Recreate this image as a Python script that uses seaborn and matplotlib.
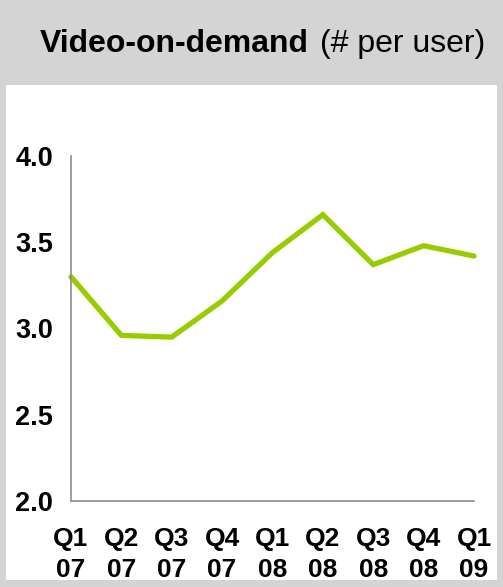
import matplotlib
matplotlib.use("Agg")
import matplotlib.pyplot as plt
import seaborn as sns
import pandas as pd
from matplotlib.patches import Rectangle

quarters = ["Q1\n07", "Q2\n07", "Q3\n07", "Q4\n07", "Q1\n08", "Q2\n08", "Q3\n08", "Q4\n08", "Q1\n09"]
values = [3.30, 2.96, 2.95, 3.16, 3.44, 3.66, 3.37, 3.48, 3.42]
yticks = [2.0, 2.5, 3.0, 3.5, 4.0]

df = pd.DataFrame({"idx": range(len(quarters)), "value": values})

sns.set_theme(style="white")
plt.rcParams["font.family"] = ["Liberation Sans", "DejaVu Sans"]
plt.rcParams["text.color"] = "black"
plt.rcParams["xtick.color"] = "black"
plt.rcParams["ytick.color"] = "black"

W, H = 503, 587
fig = plt.figure(figsize=(W / 100, H / 100), dpi=100)
fig.patch.set_facecolor("#d4d4d4")

# white panel
panel = Rectangle((6 / W, 1 - 580 / H), (497 - 6) / W, (580 - 85) / H,
                  transform=fig.transFigure, facecolor="white", edgecolor="none", zorder=-10)
fig.patches.append(panel)

t1 = fig.text(40 / W, 1 - 44 / H, "Video-on-demand", fontsize=23, fontweight="bold",
              ha="left", va="center")
fig.canvas.draw()
bb = t1.get_window_extent()
fig.text((bb.x1 + 11) / W, 1 - 44 / H, "(# per user)", fontsize=23, ha="left", va="center")

ax = fig.add_axes([71 / W, 1 - 501 / H, (474 - 71) / W, (501 - 156) / H])
ax.set_zorder(5)
ax.set_facecolor("none")
sns.lineplot(data=df, x="idx", y="value", ax=ax, color="#99cc00", linewidth=3.8,
             solid_capstyle="round", solid_joinstyle="miter", clip_on=False)

ax.set_xlim(0, len(quarters) - 1)
ax.set_ylim(2.0, 4.0)
ax.set_xticks(range(len(quarters)))
ax.set_xticklabels(quarters, fontsize=19, fontweight="bold", linespacing=1.37)
ax.set_yticks(yticks)
ax.set_yticklabels([f"{v:.1f}" for v in yticks], fontsize=19.5, fontweight="bold")
ax.tick_params(axis="both", length=0)
ax.tick_params(axis="x", pad=19)
ax.tick_params(axis="y", pad=13)
ax.set_xlabel("")
ax.set_ylabel("")
for s in ["top", "right"]:
    ax.spines[s].set_visible(False)
for s in ["left", "bottom"]:
    ax.spines[s].set_color("#8c8c8c")
    ax.spines[s].set_linewidth(1.2)

fig.savefig("out.png", dpi=100)
